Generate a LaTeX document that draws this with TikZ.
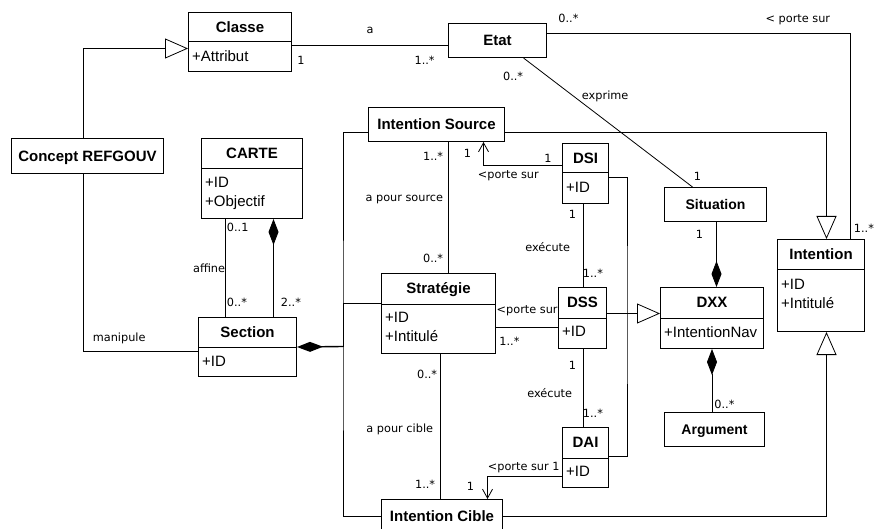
\documentclass[tikz,border=0pt]{standalone}
\usepackage{fontspec}
\setmainfont{Liberation Sans}
\newfontfamily\etiqfont{DejaVu Sans}
\usetikzlibrary{arrows.meta}
\begin{document}
\begin{tikzpicture}[x=1pt, y=-1pt,
  classe/.style 2 args={draw, line width=1pt, anchor=north west, minimum width=#1, minimum height=#2, inner sep=0pt},
  titre/.style={font=\fontsize{15}{18}\selectfont\bfseries, text height=10.7pt, text depth=0pt, inner sep=0pt},
  petit/.style={font=\fontsize{14}{17}\selectfont\bfseries, text height=10pt, text depth=0pt, inner sep=0pt},
  attr/.style={font=\fontsize{15}{19}\selectfont, align=left, anchor=north west, inner sep=0pt},
  lien/.style={line width=0.8pt},
  etiq/.style={font=\etiqfont\fontsize{11.3}{13}\selectfont, inner sep=0pt},
  herite/.style={lien, -{Triangle[open, length=23pt, width=20pt, fill=white]}},
  compo/.style={lien, {Diamond[length=26pt, width=10pt]}-},
  fleche/.style={lien, -{Straight Barb[length=9pt, width=10pt]}}
]
\useasboundingbox (0,0) rectangle (875,529);

% classes a un seul compartiment
\node[classe={98pt}{34pt}, titre] (etat) at (448,23) {Etat};
\node[classe={152pt}{35pt}, titre] (concept) at (11,138) {Concept REFGOUV};
\node[classe={136pt}{34pt}, titre] (isource) at (368,107) {Intention Source};
\node[classe={102pt}{34pt}, petit] (situation) at (664,187) {Situation};
\node[classe={100pt}{34pt}, petit] (argument) at (664,412) {Argument};
\node[classe={121pt}{33pt}, titre] (icible) at (381,499) {Intention Cible};

% classes avec attributs
\node[classe={103pt}{59pt}] (classe) at (188,12) {};
\node[titre] (classe-t) at ([yshift=-15pt]classe.north) {Classe};
\draw[line width=1pt] ([yshift=-30pt]classe.north west) -- ([yshift=-30pt]classe.north east);
\node[attr] (classe-a) at ([xshift=4pt, yshift=-38pt]classe.north west) {+Attribut};

\node[classe={101pt}{80pt}] (carte) at (201,138) {};
\node[titre] (carte-t) at ([yshift=-15.5pt]carte.north) {CARTE};
\draw[line width=1pt] ([yshift=-31pt]carte.north west) -- ([yshift=-31pt]carte.north east);
\node[attr] (carte-a) at ([xshift=4pt, yshift=-39pt]carte.north west) {+ID\\+Objectif};

\node[classe={98pt}{59pt}] (section) at (198,317) {};
\node[titre] (section-t) at ([yshift=-15pt]section.north) {Section};
\draw[line width=1pt] ([yshift=-30pt]section.north west) -- ([yshift=-30pt]section.north east);
\node[attr] (section-a) at ([xshift=4pt, yshift=-39pt]section.north west) {+ID};

\node[classe={46pt}{60pt}] (dsi) at (562,143) {};
\node[titre] (dsi-t) at ([yshift=-15pt]dsi.north) {DSI};
\draw[line width=1pt] ([yshift=-30pt]dsi.north west) -- ([yshift=-30pt]dsi.north east);
\node[attr] (dsi-a) at ([xshift=4pt, yshift=-39pt]dsi.north west) {+ID};

\node[classe={87pt}{92pt}] (intention) at (777,239) {};
\node[titre] (intention-t) at ([yshift=-15.5pt]intention.north) {Intention};
\draw[line width=1pt] ([yshift=-31pt]intention.north west) -- ([yshift=-31pt]intention.north east);
\node[attr] (intention-a) at ([xshift=4pt, yshift=-40pt]intention.north west) {+ID\\+Intitulé};

\node[classe={114pt}{80pt}] (strategie) at (381,273) {};
\node[titre] (strategie-t) at ([yshift=-15.5pt]strategie.north) {Stratégie};
\draw[line width=1pt] ([yshift=-31pt]strategie.north west) -- ([yshift=-31pt]strategie.north east);
\node[attr] (strategie-a) at ([xshift=4pt, yshift=-39pt]strategie.north west) {+ID\\+Intitulé};

\node[classe={48pt}{61pt}] (dss) at (558,287) {};
\node[titre] (dss-t) at ([yshift=-15.5pt]dss.north) {DSS};
\draw[line width=1pt] ([yshift=-31pt]dss.north west) -- ([yshift=-31pt]dss.north east);
\node[attr] (dss-a) at ([xshift=4pt, yshift=-39pt]dss.north west) {+ID};

\node[classe={103pt}{61pt}] (dxx) at (660,287) {};
\node[titre] (dxx-t) at ([yshift=-15.5pt]dxx.north) {DXX};
\draw[line width=1pt] ([yshift=-31pt]dxx.north west) -- ([yshift=-31pt]dxx.north east);
\node[attr] (dxx-a) at ([xshift=4pt, yshift=-39pt]dxx.north west) {+IntentionNav};

\node[classe={46pt}{60pt}] (dai) at (562,427) {};
\node[titre] (dai-t) at ([yshift=-15.5pt]dai.north) {DAI};
\draw[line width=1pt] ([yshift=-31pt]dai.north west) -- ([yshift=-31pt]dai.north east);
\node[attr] (dai-a) at ([xshift=4pt, yshift=-39pt]dai.north west) {+ID};

\coordinate (jonction) at (343,346.5);
\coordinate (branche) at (627,313);

% liens
\draw[herite] ([xshift=-4pt]concept.north) |- ([yshift=-6.5pt]classe.west);
\draw[lien] ([xshift=-4pt]concept.south) |- ([yshift=-4.5pt]section.west)
  node[etiq, pos=0.5, anchor=base west, xshift=9pt, yshift=10pt] {manipule};
\draw[lien] ([yshift=-3.5pt]classe.east) -- ([yshift=-5pt]etat.west)
  node[etiq, pos=0.5, anchor=base, yshift=12pt] {a}
  node[etiq, pos=0, anchor=base west, xshift=5pt, yshift=-19pt] {1}
  node[etiq, pos=1, anchor=base east, xshift=-13pt, yshift=-19pt] {1..*};
\draw[lien] ([yshift=7pt]etat.east) -| ([xshift=29.5pt]intention.north)
  node[etiq, pos=0, anchor=base west, xshift=11pt, yshift=11pt] {0..*}
  node[etiq, pos=0.5, anchor=base east, xshift=-20pt, yshift=11pt] {< porte sur}
  node[etiq, pos=1, anchor=base west, xshift=3pt, yshift=6pt] {1..*};
\draw[lien] ([xshift=26pt]etat.south) -- ([xshift=-23pt]situation.north)
  node[etiq, pos=0, anchor=base east, yshift=-23pt] {0..*}
  node[etiq, pos=0.32, anchor=base west, xshift=4pt] {exprime}
  node[etiq, pos=1, anchor=base west, xshift=1pt, yshift=6pt] {1};
\draw[lien] ([xshift=-26.5pt]carte.south) -- ([xshift=-22pt]section.north)
  node[etiq, pos=0, anchor=base west, xshift=1pt, yshift=-13pt] {0..1}
  node[etiq, pos=0.5, anchor=base east, yshift=-4.5pt] {affine}
  node[etiq, pos=1, anchor=base west, xshift=1pt, yshift=11pt] {0..*};
\draw[compo] ([xshift=21.5pt]carte.south) -- ([xshift=26pt]section.north)
  node[etiq, pos=1, anchor=base west, xshift=7pt, yshift=11pt] {2..*};
\draw[compo, line width=1.4pt] (section.east) -- (jonction);
\draw[lien] ([yshift=-8pt]isource.west) -| (jonction) |- (icible.west);
\draw[lien] ([yshift=10pt]strategie.west) -| (jonction);
\draw[lien] ([xshift=12pt]isource.south) -- ([xshift=10pt]strategie.north)
  node[etiq, pos=0, anchor=base east, xshift=-5pt, yshift=-19pt] {1..*}
  node[etiq, pos=0.455, anchor=base east, xshift=-5pt] {a pour source}
  node[etiq, pos=1, anchor=base east, xshift=-5pt, yshift=10pt] {0..*};
\draw[fleche] ([yshift=8pt]dsi.west) -| ([xshift=47pt]isource.south)
  node[etiq, pos=0, anchor=base east, xshift=-10pt, yshift=3pt] {1}
  node[etiq, pos=0.5, anchor=base west, xshift=-6pt, yshift=-13pt] {<porte sur}
  node[etiq, pos=1, anchor=base east, xshift=-12pt, yshift=-16pt] {1};
\draw[lien] ([xshift=-2pt]dsi.south) -- ([xshift=1pt]dss.north)
  node[etiq, pos=0, anchor=base east, xshift=-7pt, yshift=-15pt] {1}
  node[etiq, pos=0.57, anchor=base east, xshift=-13pt] {exécute}
  node[etiq, pos=1, anchor=base west, xshift=-1pt, yshift=10pt] {1..*};
\draw[lien] ([yshift=-14pt]strategie.east) -- ([yshift=-9.5pt]dss.west)
  node[etiq, pos=1, anchor=base east, yshift=14pt] {<porte sur}
  node[etiq, pos=0, anchor=base west, xshift=3pt, yshift=-18pt] {1..*};
\draw[herite] ([yshift=4.5pt]dss.east) -- ([yshift=4.5pt]dxx.west);
\draw[lien] ([yshift=-4pt]dsi.east) -| (branche) |- ([yshift=1pt]dai.east);
\draw[lien] ([xshift=1pt]dss.south) -- ([xshift=-2pt]dai.north)
  node[etiq, pos=0, anchor=base east, xshift=-7pt, yshift=-20pt] {1}
  node[etiq, pos=0.62, anchor=base east, xshift=-11pt] {exécute}
  node[etiq, pos=1, anchor=base west, xshift=-1pt, yshift=10pt] {1..*};
\draw[fleche] ([yshift=-19pt]dai.west) -| ([xshift=45.5pt]icible.north)
  node[etiq, pos=0, anchor=base east, xshift=-2pt, yshift=6pt] {1}
  node[etiq, pos=0.5, anchor=base west, yshift=6pt] {<porte sur}
  node[etiq, pos=1, anchor=base east, xshift=-13pt, yshift=9pt] {1};
\draw[lien] ([xshift=2pt]strategie.south) -- ([xshift=-1.5pt]icible.north)
  node[etiq, pos=0, anchor=base east, xshift=-3pt, yshift=-24pt] {0..*}
  node[etiq, pos=0.54, anchor=base east, xshift=-7pt] {a pour cible}
  node[etiq, pos=1, anchor=base east, xshift=-5pt, yshift=11pt] {1..*};
\draw[herite] ([yshift=-8pt]isource.east) -| ([xshift=5.5pt]intention.north);
\draw[herite] (icible.east) -| ([xshift=5.5pt]intention.south);
\draw[compo] ([xshift=4.5pt]dxx.north) -- ([xshift=1pt]situation.south)
  node[etiq, pos=1, anchor=base east, xshift=-13pt, yshift=-17pt] {1};
\draw[compo] (dxx.south) -- ([xshift=-2.5pt]argument.north)
  node[etiq, pos=1, anchor=base west, xshift=2pt, yshift=4pt] {0..*};
\end{tikzpicture}
\end{document}
